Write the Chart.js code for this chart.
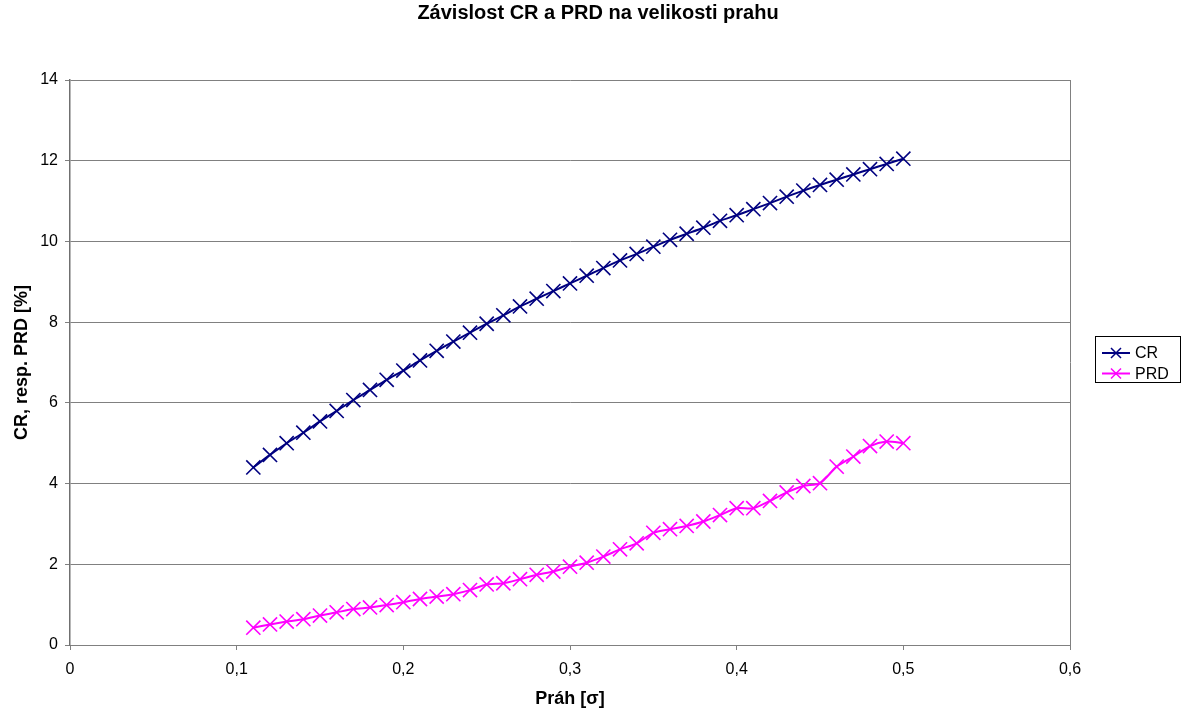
<!DOCTYPE html>
<html>
<head>
<meta charset="utf-8">
<title>Závislost CR a PRD na velikosti prahu</title>
<script src="https://cdn.jsdelivr.net/npm/chart.js@4"></script>
<style>
  html, body { margin: 0; padding: 0; background: #fff; }
  #wrap { width: 1183px; height: 708px; }
</style>
</head>
<body>
<div id="wrap"><canvas id="chart" width="1183" height="708"></canvas></div>
<script>
// threshold values (x axis)
const PRAH = [0.11, 0.12, 0.13, 0.14, 0.15, 0.16, 0.17, 0.18, 0.19, 0.20,
              0.21, 0.22, 0.23, 0.24, 0.25, 0.26, 0.27, 0.28, 0.29, 0.30,
              0.31, 0.32, 0.33, 0.34, 0.35, 0.36, 0.37, 0.38, 0.39, 0.40,
              0.41, 0.42, 0.43, 0.44, 0.45, 0.46, 0.47, 0.48, 0.49, 0.50];

const CR  = [4.40, 4.71, 5.00, 5.26, 5.54, 5.80, 6.07, 6.32, 6.57, 6.80,
             7.05, 7.29, 7.52, 7.74, 7.96, 8.17, 8.39, 8.58, 8.77, 8.96,
             9.15, 9.34, 9.53, 9.69, 9.87, 10.04, 10.19, 10.34, 10.51, 10.65,
             10.80, 10.95, 11.11, 11.26, 11.40, 11.53, 11.66, 11.79, 11.92, 12.05];

const PRD = [0.43, 0.51, 0.58, 0.64, 0.73, 0.81, 0.89, 0.93, 0.99, 1.06,
             1.14, 1.20, 1.26, 1.36, 1.50, 1.53, 1.63, 1.74, 1.82, 1.94,
             2.04, 2.19, 2.37, 2.52, 2.78, 2.87, 2.95, 3.06, 3.22, 3.39,
             3.39, 3.57, 3.78, 3.94, 4.01, 4.42, 4.67, 4.93, 5.04, 5.00];

const SERIES_NAMES = ['CR', 'PRD'];
const SERIES_COLORS = ['#000080', '#FF00FF'];

const X_TICKS = [0, 0.1, 0.2, 0.3, 0.4, 0.5, 0.6];
const Y_TICKS = [0, 2, 4, 6, 8, 10, 12, 14];

const FONT = "'Liberation Sans', Arial, sans-serif";
Chart.defaults.font.family = FONT;
Chart.defaults.color = '#000';

const fmtComma = v => v === 0 ? '0' : v.toFixed(1).replace('.', ',');

// ── legend box on the right, Excel style (line + x marker) ────────────────
const boxLegend = {
  id: 'boxLegend',
  afterDraw(chart) {
    const { ctx } = chart;
    ctx.save();
    ctx.strokeStyle = '#000';
    ctx.lineWidth = 1;
    ctx.strokeRect(1095.5, 336.5, 85, 46);
    chart.data.datasets.forEach((ds, i) => {
      const y = 353 + i * 20.5;
      ctx.strokeStyle = ds.borderColor;
      ctx.lineWidth = 2;
      ctx.beginPath();
      ctx.moveTo(1102, y);
      ctx.lineTo(1130, y);
      ctx.stroke();
      ctx.lineWidth = 1.5;
      ctx.beginPath();
      ctx.moveTo(1111, y - 5); ctx.lineTo(1121, y + 5);
      ctx.moveTo(1111, y + 5); ctx.lineTo(1121, y - 5);
      ctx.stroke();
      ctx.fillStyle = '#000';
      ctx.font = '16px ' + FONT;
      ctx.textAlign = 'left';
      ctx.textBaseline = 'middle';
      ctx.fillText(ds.label, 1135, y + 1);
    });
    ctx.restore();
  }
};

const datasets = [CR, PRD].map((vals, i) => ({
  label: SERIES_NAMES[i],
  data: PRAH.map((x, k) => ({ x, y: vals[k] })),
  showLine: true,
  borderColor: SERIES_COLORS[i],
  backgroundColor: SERIES_COLORS[i],
  borderWidth: 2,
  tension: 0.25,
  pointStyle: 'crossRot',
  pointRadius: 10,
  pointBorderWidth: 1.6,
  pointBorderColor: SERIES_COLORS[i],
  yAxisID: 'y',
}));

new Chart(document.getElementById('chart').getContext('2d'), {
  type: 'scatter',
  plugins: [boxLegend],
  data: { datasets },
  options: {
    responsive: false,
    animation: false,
    events: [],
    layout: { padding: { left: 13, right: 0, top: 0, bottom: 0 } },
    scales: {
      x: {
        type: 'linear',
        min: 0, max: 0.6,
        afterBuildTicks: s => { s.ticks = X_TICKS.map(v => ({ value: v })); },
        afterFit: s => { s.height = 63; },
        ticks: { font: { size: 16 }, padding: 10, callback: v => fmtComma(v), maxRotation: 0 },
        grid: {
          color: c => (c.tick && c.tick.value > 0.59) ? '#808080' : 'transparent',
          tickColor: '#808080',
          tickLength: 5,
        },
        border: { color: '#808080', width: 1 },
        title: { display: true, text: 'Práh [σ]', font: { size: 18, weight: 'bold', lineHeight: 1 }, padding: 0 },
      },
      y: {
        type: 'linear',
        position: 'left',
        min: 0, max: 14,
        afterBuildTicks: s => { s.ticks = Y_TICKS.map(v => ({ value: v })); },
        afterFit: s => { s.width = 57; },
        ticks: { font: { size: 16 }, padding: 7 },
        grid: { color: '#808080', tickColor: '#808080', tickLength: 5 },
        border: { color: '#707070', width: 1.5 },
        title: { display: true, text: 'CR, resp. PRD [%]', font: { size: 18, weight: 'bold', lineHeight: 1 }, padding: { top: 0, bottom: 0 } },
      },
      spacer: {
        type: 'linear',
        position: 'right',
        min: 0, max: 1,
        afterFit: s => { s.width = 113; },
        ticks: { display: false },
        grid: { display: false },
        border: { display: false },
      }
    },
    plugins: {
      legend: { display: false },
      tooltip: { enabled: false },
      title: {
        display: true,
        text: 'Závislost CR a PRD na velikosti prahu',
        font: { size: 20, weight: 'bold', lineHeight: 1.2 },
        color: '#000',
        padding: { top: 1, bottom: 55 },
      }
    }
  }
});
</script>
</body>
</html>
